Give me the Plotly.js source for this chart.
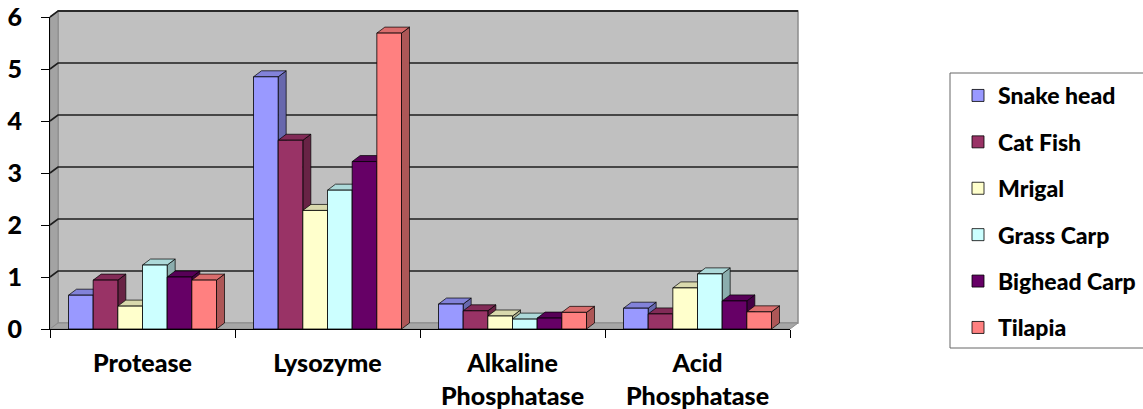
<!DOCTYPE html>
<html>
<head>
<meta charset="utf-8">
<script src="https://cdn.plot.ly/plotly-3.0.1.min.js"></script>
<style>html,body{margin:0;padding:0;background:#fff;}#chart{width:1143px;height:409px;}</style>
</head>
<body>
<div id="chart"></div>
<script>
// ---- data ----
var categories = ['Protease', 'Lysozyme', 'Alkaline<br>Phosphatase', 'Acid<br>Phosphatase'];
var seriesNames = ['Snake head', 'Cat Fish', 'Mrigal', 'Grass Carp', 'Bighead Carp', 'Tilapia'];
var snakeHead   = [0.65, 4.85, 0.48, 0.40];
var catFish     = [0.94, 3.63, 0.35, 0.29];
var mrigal      = [0.44, 2.28, 0.25, 0.79];
var grassCarp   = [1.23, 2.67, 0.19, 1.06];
var bigheadCarp = [1.00, 3.22, 0.21, 0.54];
var tilapia     = [0.94, 5.69, 0.32, 0.33];
var yTicks = [0, 1, 2, 3, 4, 5, 6];

var seriesValues = [snakeHead, catFish, mrigal, grassCarp, bigheadCarp, tilapia];
var colors = ['#9999FF', '#993366', '#FFFFCC', '#CCFFFF', '#660066', '#FF8080'];

// ---- geometry ----
var W = 1143, H = 409;
var mL = 50, mR = 353, mT = 17, mB = 80;
var plotW = W - mL - mR, plotH = H - mT - mB;
var xRange = [-0.5, 3.5], yRange = [0, 6];
var pxPerX = plotW / (xRange[1] - xRange[0]);
var pxPerY = plotH / (yRange[1] - yRange[0]);
var depthX = 8, depthY = 6; // 3D depth in pixels
var dX = depthX / pxPerX, dY = depthY / pxPerY;
var bargap = 0.2;
var nS = seriesValues.length;
var bw = (1 - bargap) / nS;

function shade(hex, f) {
  var r = parseInt(hex.substr(1, 2), 16), g = parseInt(hex.substr(3, 2), 16), b = parseInt(hex.substr(5, 2), 16);
  return 'rgb(' + Math.round(r * f) + ',' + Math.round(g * f) + ',' + Math.round(b * f) + ')';
}
function px2paperX(p) { return (p - mL) / plotW; }
function py2paperY(p) { return (H - mB - p) / plotH; }

var axisFont = {family: 'Lato, "Open Sans", sans-serif', size: 25, color: '#000', weight: 900};
var legendFont = {family: 'Lato, "Open Sans", sans-serif', size: 23, color: '#000', weight: 900};

var xIdx = categories.map(function (c, i) { return i; });
var traces = seriesValues.map(function (vals, s) {
  return {
    type: 'bar', name: seriesNames[s], x: xIdx, y: vals,
    marker: {color: colors[s], line: {color: '#000', width: 0.8}},
    legendgroup: 'g' + s, hoverinfo: 'x+y+name'
  };
});

var shapes = [];
// walls (paper, below everything)
var x0p = px2paperX(mL), x1p = px2paperX(mL + plotW);
var bx0 = px2paperX(mL + depthX), bx1 = px2paperX(mL + plotW + depthX);
var yTopF = py2paperY(mT), yBotF = py2paperY(H - mB);
var yTopB = py2paperY(mT - depthY), yBotB = py2paperY(H - mB - depthY);
// back wall
shapes.push({type: 'rect', xref: 'paper', yref: 'paper', x0: bx0, x1: bx1, y0: yBotB, y1: yTopB,
  fillcolor: '#C0C0C0', line: {color: '#8c8c8c', width: 1.5}, layer: 'below'});
// top edge darker
shapes.push({type: 'line', xref: 'paper', yref: 'paper', x0: bx0, x1: bx1, y0: yTopB, y1: yTopB,
  line: {color: '#555', width: 2}, layer: 'below'});
// left side wall
shapes.push({type: 'path', xref: 'paper', yref: 'paper',
  path: 'M' + x0p + ',' + yBotF + ' L' + x0p + ',' + yTopF + ' L' + bx0 + ',' + yTopB + ' L' + bx0 + ',' + yBotB + ' Z',
  fillcolor: '#a3a3a3', line: {color: '#8c8c8c', width: 1}, layer: 'below'});
// floor
shapes.push({type: 'path', xref: 'paper', yref: 'paper',
  path: 'M' + x0p + ',' + yBotF + ' L' + bx0 + ',' + yBotB + ' L' + bx1 + ',' + yBotB + ' L' + x1p + ',' + yBotF + ' Z',
  fillcolor: '#a6a6a6', line: {color: '#8c8c8c', width: 1}, layer: 'below'});
// gridlines on back wall + left wall
yTicks.forEach(function (k) {
  if (k === 0) return;
  var yf = (k - yRange[0]) / (yRange[1] - yRange[0]);
  var yb = yf + depthY / plotH;
  shapes.push({type: 'path', xref: 'paper', yref: 'paper',
    path: 'M' + x0p + ',' + yf + ' L' + bx0 + ',' + yb + ' L' + bx1 + ',' + yb,
    line: {color: '#1e1e1e', width: 1.6}, layer: 'below'});
});

// 3D faces of bars (data coords, drawn beneath the front faces)
for (var c = 0; c < categories.length; c++) {
  for (var s = 0; s < nS; s++) {
    var v = seriesValues[s][c];
    var bx = c - (1 - bargap) / 2 + s * bw, bxe = bx + bw;
    shapes.push({type: 'path', xref: 'x', yref: 'y', layer: 'below',
      path: 'M' + bxe + ',0 L' + (bxe + dX) + ',' + dY + ' L' + (bxe + dX) + ',' + (v + dY) + ' L' + bxe + ',' + v + ' Z',
      fillcolor: shade(colors[s], 0.68), line: {color: '#000', width: 0.7}});
    shapes.push({type: 'path', xref: 'x', yref: 'y', layer: 'below',
      path: 'M' + bx + ',' + v + ' L' + (bx + dX) + ',' + (v + dY) + ' L' + (bxe + dX) + ',' + (v + dY) + ' L' + bxe + ',' + v + ' Z',
      fillcolor: shade(colors[s], 0.85), line: {color: '#000', width: 0.7}});
  }
}

// legend box
shapes.push({type: 'rect', xref: 'paper', yref: 'paper',
  x0: px2paperX(950), x1: px2paperX(1150), y0: py2paperY(348), y1: py2paperY(73),
  line: {color: '#666', width: 1}, fillcolor: 'rgba(0,0,0,0)', layer: 'below'});

var layout = {
  width: W, height: H,
  margin: {l: mL, r: mR, t: mT, b: mB, pad: 0, autoexpand: false},
  paper_bgcolor: '#fff', plot_bgcolor: 'rgba(0,0,0,0)',
  barmode: 'group', bargap: bargap, bargroupgap: 0,
  font: axisFont,
  showlegend: true,
  legend: {x: px2paperX(958), xanchor: 'left', y: py2paperY(74), yanchor: 'top',
    font: legendFont, bgcolor: 'rgba(0,0,0,0)', borderwidth: 0, tracegroupgap: 13.5, traceorder: 'grouped'},
  xaxis: {range: xRange, tickmode: 'array', tickvals: xIdx, ticktext: categories,
    showline: true, linecolor: '#000', linewidth: 1, ticks: '', showgrid: false, zeroline: false,
    tickfont: axisFont, ticklabelstandoff: 12,
    minor: {tickmode: 'linear', tick0: -0.5, dtick: 1, ticks: 'outside', ticklen: 8, tickcolor: '#000', tickwidth: 1, showgrid: false},
    fixedrange: true},
  yaxis: {range: yRange, tickmode: 'array', tickvals: yTicks,
    showline: true, linecolor: '#000', linewidth: 1, ticks: 'outside', ticklen: 8, tickcolor: '#000',
    showgrid: false, zeroline: false, tickfont: axisFont, ticklabelstandoff: 14, fixedrange: true},
  shapes: shapes
};

Plotly.newPlot('chart', traces, layout, {displayModeBar: false, staticPlot: true});
</script>
</body>
</html>
